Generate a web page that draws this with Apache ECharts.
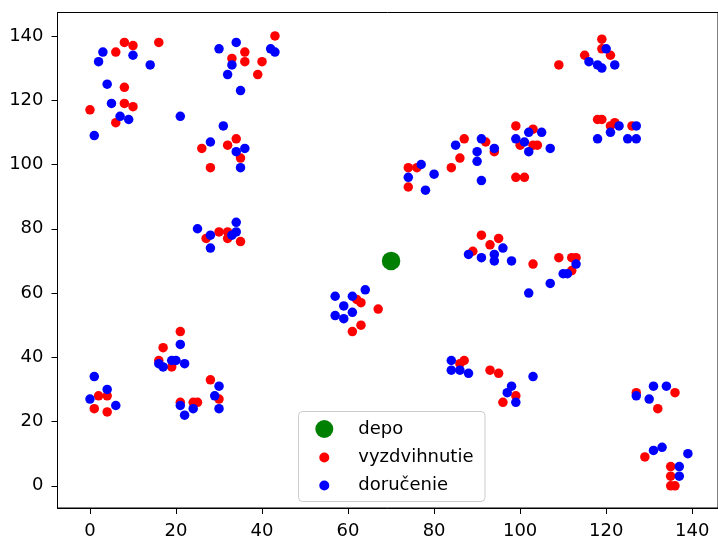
<!DOCTYPE html>
<html>
<head>
<meta charset="utf-8">
<script src="https://cdn.jsdelivr.net/npm/echarts@6/dist/echarts.min.js"></script>
<style>html,body{margin:0;padding:0;background:#fff}#c{width:718px;height:540px}</style>
</head>
<body>
<div id="c"></div>
<script>
const xTicks = [0, 20, 40, 60, 80, 100, 120, 140];
const yTicks = [0, 20, 40, 60, 80, 100, 120, 140];
const depot = [[70, 70]];
const pickups = [
  [6,135],[8,138],[10,137],[16,138],[8,124],[0,117],[8,119],[10,118],[6,113],
  [33,133],[36,135],[36,132],[40,132],[39,128],[43,140],
  [34,108],[32,106],[26,105],[35,102],[28,99],
  [27,77],[30,79],[32,79],[32,77],[35,76],
  [21,48],[17,43],[16,39],[19,37],
  [2,28],[4,28],[1,24],[4,23],
  [28,33],[30,27],[21,26],[24,26],[25,26],
  [62,58],[63,57],[67,55],[63,50],[61,48],
  [74,99],[76,99],[74,93],
  [87,108],[86,102],[84,99],[92,107],[94,104],
  [99,112],[103,111],[100,106],[103,106],[104,106],[99,96],[101,96],
  [119,139],[119,136],[115,134],[121,134],[109,131],[118,114],[119,114],[121,112],[122,113],[126,112],
  [91,78],[95,77],[93,75],[89,73],
  [103,69],[109,71],[112,71],[113,71],[112,67],
  [87,39],[86,38],[93,36],[95,35],[99,28],[96,26],
  [127,29],[136,29],[132,24],
  [129,9],[135,6],[135,3],[135,0],[136,0]
];
const deliveries = [
  [3,135],[2,132],[10,134],[14,131],[4,125],[5,119],[7,115],[9,114],[1,109],[21,115],
  [30,136],[34,138],[33,131],[32,128],[35,123],[42,136],[43,135],
  [31,112],[28,107],[34,104],[36,105],[35,99],
  [25,80],[28,78],[34,82],[34,79],[33,78],[28,74],
  [21,44],[16,38],[17,37],[19,39],[20,39],[22,38],
  [1,34],[4,30],[0,27],[6,25],
  [30,31],[29,28],[30,24],[21,25],[24,24],[22,22],
  [64,61],[57,59],[61,59],[59,56],[57,53],[61,54],[59,52],
  [77,100],[74,96],[80,97],[78,92],
  [85,106],[91,108],[90,104],[94,105],[90,101],[91,95],
  [99,108],[102,110],[105,110],[101,107],[102,104],[107,105],
  [120,136],[116,132],[118,131],[119,130],[122,131],[123,112],[127,112],[121,110],[118,108],[125,108],[127,108],
  [96,74],[88,72],[91,71],[94,72],[94,70],[98,70],
  [102,60],[107,63],[113,69],[110,66],[111,66],
  [84,39],[84,36],[86,36],[88,35],[98,31],[97,29],[99,26],[103,34],
  [127,28],[131,31],[134,31],[130,27],
  [131,11],[133,12],[139,10],[137,6],[137,3]
];
const names = ['depo', 'vyzdvihnutie', 'doručenie'];

const chart = echarts.init(document.getElementById('c'), null, {renderer: 'canvas'});
const font = 'DejaVu Sans';
const fs = 18;
const axisCommon = {
  axisLine: {show: true, onZero: false, lineStyle: {color: '#000', width: 1}},
  axisTick: {show: true, inside: false, length: 6, lineStyle: {color: '#000', width: 1}},
  splitLine: {show: false},
  axisLabel: {color: '#000', fontFamily: font, fontSize: fs}
};
function leg(name, cx, top, size, pad) {
  return {data: [name], left: cx - size / 2, top: top, padding: 0, itemWidth: size, itemHeight: size, z: 10,
    selectedMode: false,
    textStyle: {color: '#000', fontFamily: font, fontSize: fs, padding: [0, 0, 0, pad]}};
}
chart.setOption({
  animation: false,
  backgroundColor: '#fff',
  grid: {left: 57.5, top: 12.5, width: 665.4, height: 497.5, show: true, borderColor: '#000', borderWidth: 1, backgroundColor: 'transparent'},
  xAxis: Object.assign({}, axisCommon, {
    type: 'value', min: -7.55, max: 146,
    axisTick: Object.assign({}, axisCommon.axisTick, {customValues: xTicks}),
    axisLabel: Object.assign({}, axisCommon.axisLabel, {customValues: xTicks, margin: 14})
  }),
  yAxis: Object.assign({}, axisCommon, {
    type: 'value', min: -6.9, max: 147.3,
    axisTick: Object.assign({}, axisCommon.axisTick, {customValues: yTicks}),
    axisLabel: Object.assign({}, axisCommon.axisLabel, {customValues: yTicks, margin: 14})
  }),
  legend: [
    leg(names[0], 324.3, 420, 18, 20),
    leg(names[1], 324.3, 448.5, 10, 24),
    leg(names[2], 324.3, 476.5, 10, 24)
  ],
  graphic: [{
    type: 'rect', z: 8, silent: true,
    shape: {x: 298.5, y: 411.5, width: 186.5, height: 90, r: 4},
    style: {fill: 'rgba(255,255,255,0.8)', stroke: '#cccccc', lineWidth: 1}
  }],
  series: [
    {name: names[0], type: 'scatter', data: depot, symbol: 'circle', symbolSize: 18.5, itemStyle: {color: '#008000', opacity: 1}, z: 2},
    {name: names[1], type: 'scatter', data: pickups, symbol: 'circle', symbolSize: 9.5, itemStyle: {color: '#ff0000', opacity: 1}, z: 3},
    {name: names[2], type: 'scatter', data: deliveries, symbol: 'circle', symbolSize: 9.5, itemStyle: {color: '#0000ff', opacity: 1}, z: 4}
  ]
});
</script>
</body>
</html>
